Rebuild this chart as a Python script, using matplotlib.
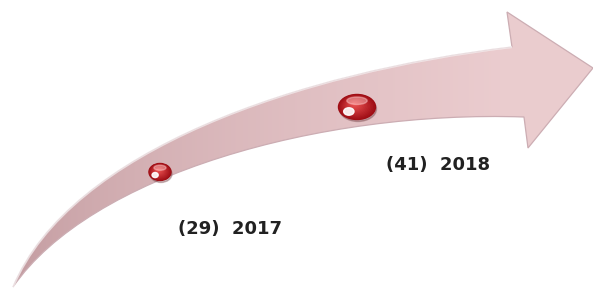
import numpy as np
import matplotlib.pyplot as plt
from matplotlib.path import Path
from matplotlib.patches import PathPatch, Ellipse

# data
years = [2017, 2018]
counts = [29, 41]
labels = [f"({c})  {y}" for c, y in zip(counts, years)]

W, H = 593, 289
fig = plt.figure(figsize=(W / 100, H / 100), dpi=100)

# background axes in pixel units for the decorative arrow
bg = fig.add_axes([0, 0, 1, 1])
bg.set_xlim(0, W)
bg.set_ylim(H, 0)
bg.axis("off")

# data axes (year vs count) on top
ax = fig.add_axes([0, 0, 1, 1])
ax.set_xlim(2016.188, 2019.198)
ax.set_ylim(7.4, 60.75)
ax.axis("off")
ax.patch.set_alpha(0)

# curved arrow shape
upper = [(13, 287), (70, 150), (300, 72), (512, 47)]
verts = upper + [
    (507, 12), (593, 68), (528, 148), (524, 117),  # head
    (320, 110), (90, 175), (13, 287),              # lower edge back to tail
    (13, 287),
]
codes = [Path.MOVETO, Path.CURVE4, Path.CURVE4, Path.CURVE4,
         Path.LINETO, Path.LINETO, Path.LINETO, Path.LINETO,
         Path.CURVE4, Path.CURVE4, Path.CURVE4, Path.CLOSEPOLY]
arrow = PathPatch(Path(verts, codes), facecolor="none",
                  edgecolor=(0.80, 0.68, 0.70), lw=0.9, zorder=2)
bg.add_patch(arrow)

# light rim along the top edge
rim = PathPatch(Path(upper, [Path.MOVETO, Path.CURVE4, Path.CURVE4, Path.CURVE4]),
                facecolor="none", edgecolor="white", lw=1.6, alpha=0.6, zorder=2.5)
bg.add_patch(rim)

# pink gradient, darker at the tail
xx, yy = np.meshgrid(np.arange(W), np.arange(H))
t = np.clip(xx / 500, 0, 1) ** 0.55
dark = np.array([0.74, 0.58, 0.60])
light = np.array([0.92, 0.80, 0.81])
rgb = dark[None, None, :] * (1 - t[..., None]) + light[None, None, :] * t[..., None]
im = bg.imshow(rgb, extent=(0, W, H, 0), zorder=1, aspect="auto")
im.set_clip_path(arrow)

# spheres
sphere_w = [22, 37]
sphere_h = [17, 25]
for i, (yr, c) in enumerate(zip(years, counts)):
    disp = ax.transData.transform((yr, c))
    px, py = bg.transData.inverted().transform(disp)
    w, h = sphere_w[i], sphere_h[i]
    bg.add_patch(Ellipse((px + 1, py + 2), w, h, color=(0.45, 0.25, 0.27), alpha=0.35, zorder=3))
    n = 14
    for k in range(n):
        f = 1 - k / n
        col = np.array([0.62, 0.05, 0.08]) * f + np.array([0.93, 0.33, 0.33]) * (1 - f)
        bg.add_patch(Ellipse((px - 0.08 * w * (1 - f), py - 0.12 * h * (1 - f)),
                             w * f, h * f, color=col, zorder=4 + k * 0.01))
    bg.add_patch(Ellipse((px, py - 0.25 * h), 0.55 * w, 0.3 * h,
                         color=(1, 0.8, 0.8), alpha=0.45, zorder=5))
    bg.add_patch(Ellipse((px - 0.22 * w, py + 0.18 * h), 0.28 * w, 0.3 * h,
                         color="white", alpha=0.9, zorder=5))

# labels
offsets = [(18, -57), (29, -58)]
for i, (yr, c) in enumerate(zip(years, counts)):
    ax.annotate(labels[i], (yr, c), xytext=offsets[i], textcoords="offset pixels",
                ha="left", va="center", fontsize=13, fontweight="bold",
                color=(0.13, 0.13, 0.13), family="DejaVu Sans")

fig.savefig("out.png", dpi=100)
